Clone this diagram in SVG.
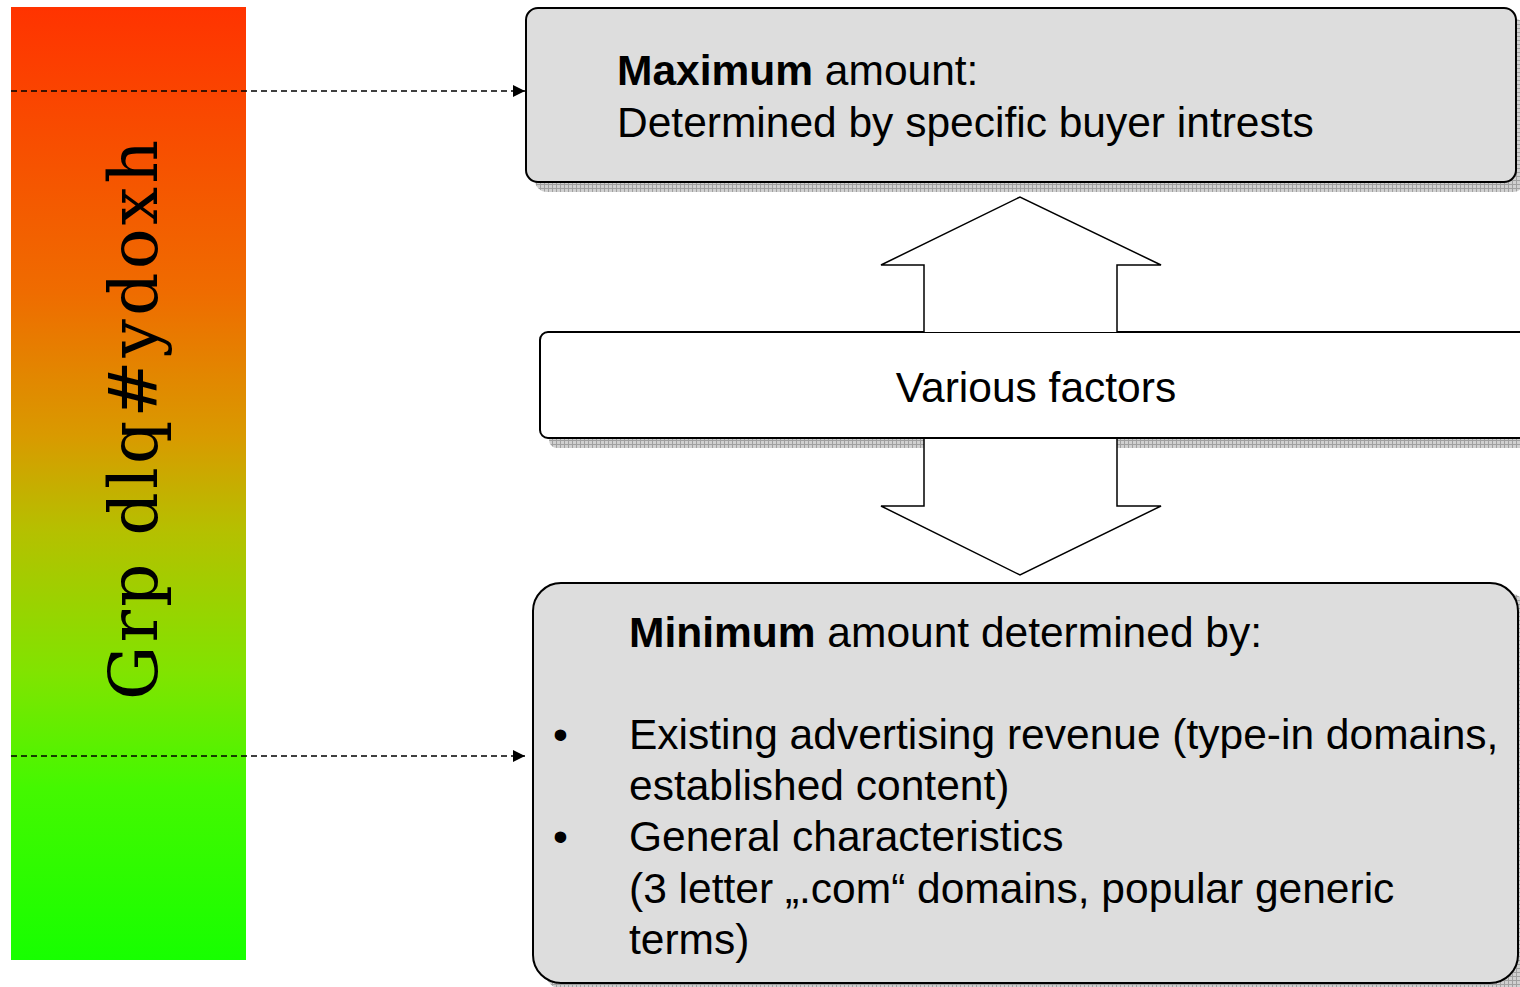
<svg xmlns="http://www.w3.org/2000/svg" width="1520" height="987" viewBox="0 0 1520 987">
<defs>
<linearGradient id="bar" x1="0" y1="0" x2="0" y2="1">
<stop offset="0" stop-color="#ff3300"/>
<stop offset="0.3" stop-color="#ef6c00"/>
<stop offset="0.45" stop-color="#d99a00"/>
<stop offset="0.55" stop-color="#b5c000"/>
<stop offset="0.7" stop-color="#80e400"/>
<stop offset="0.82" stop-color="#44f800"/>
<stop offset="1" stop-color="#17ff00"/>
</linearGradient>
<pattern id="hatch" width="4" height="4" patternUnits="userSpaceOnUse">
<rect width="4" height="4" fill="#d0d0d0"/>
<path d="M0 0.5H4M0.5 0V4" stroke="#a0a0a0" stroke-width="1"/>
</pattern>
<marker id="arr" viewBox="0 0 10 10" refX="10" refY="5" markerWidth="12" markerHeight="12" markerUnits="userSpaceOnUse" orient="auto">
<path d="M0 0L10 5L0 10z" fill="#000"/>
</marker>
</defs>
<style>
.t{font-family:"Liberation Sans",Arial,sans-serif;font-size:42.5px;fill:#000}
.b{font-weight:bold}
.box{stroke:#000;stroke-width:2}
.dash{stroke:#000;stroke-width:1.6;stroke-dasharray:6 4;fill:none}
.arrow{fill:#fff;stroke:#000;stroke-width:1.5;stroke-linejoin:miter}
</style>
<g id="scale-bar">
<rect x="11" y="7" width="235" height="953" fill="url(#bar)"/>
<text transform="translate(157,700) rotate(-90)" x="0" y="0" font-family="'DejaVu Serif','Liberation Serif',serif" font-size="68" textLength="560" lengthAdjust="spacing">Grp dlq#ydoxh</text>
</g>
<g id="max-box">
<rect x="535" y="18" width="990" height="174" rx="12" fill="url(#hatch)"/>
<rect class="box" x="526" y="8" width="990" height="174" rx="12" fill="#dddddd"/>
<text class="t" x="617" y="85"><tspan class="b">Maximum</tspan> amount:</text>
<text class="t" x="617" y="137">Determined by specific buyer intrests</text>
</g>
<g id="factors-box">
<rect x="549" y="342" width="990" height="106" rx="8" fill="url(#hatch)"/>
<rect class="box" x="540" y="332" width="1000" height="106" rx="8" fill="#ffffff"/>
<text class="t" x="1036" y="402" text-anchor="middle">Various factors</text>
</g>
<g id="min-box">
<rect x="542" y="592" width="990" height="400" rx="28" fill="url(#hatch)"/>
<rect class="box" x="533" y="583" width="985" height="400" rx="28" fill="#dddddd"/>
<text class="t" x="629" y="647"><tspan class="b">Minimum</tspan> amount determined by:</text>
<text class="t" x="553" y="749">•</text>
<text class="t" x="629" y="749">Existing advertising revenue (type-in domains,</text>
<text class="t" x="629" y="800">established content)</text>
<text class="t" x="553" y="851">•</text>
<text class="t" x="629" y="851">General characteristics</text>
<text class="t" x="629" y="903">(3 letter „.com“ domains, popular generic</text>
<text class="t" x="629" y="954">terms)</text>
</g>
<g id="connectors">
<line class="dash" x1="11" y1="91" x2="525" y2="91" marker-end="url(#arr)"/>
<line class="dash" x1="11" y1="756" x2="525" y2="756" marker-end="url(#arr)"/>
<path class="arrow" d="M924 332V265H881L1020 197L1161 265H1117V332"/>
<path class="arrow" d="M924 439V506H881L1020 575L1161 506H1117V439"/>
</g>
</svg>
